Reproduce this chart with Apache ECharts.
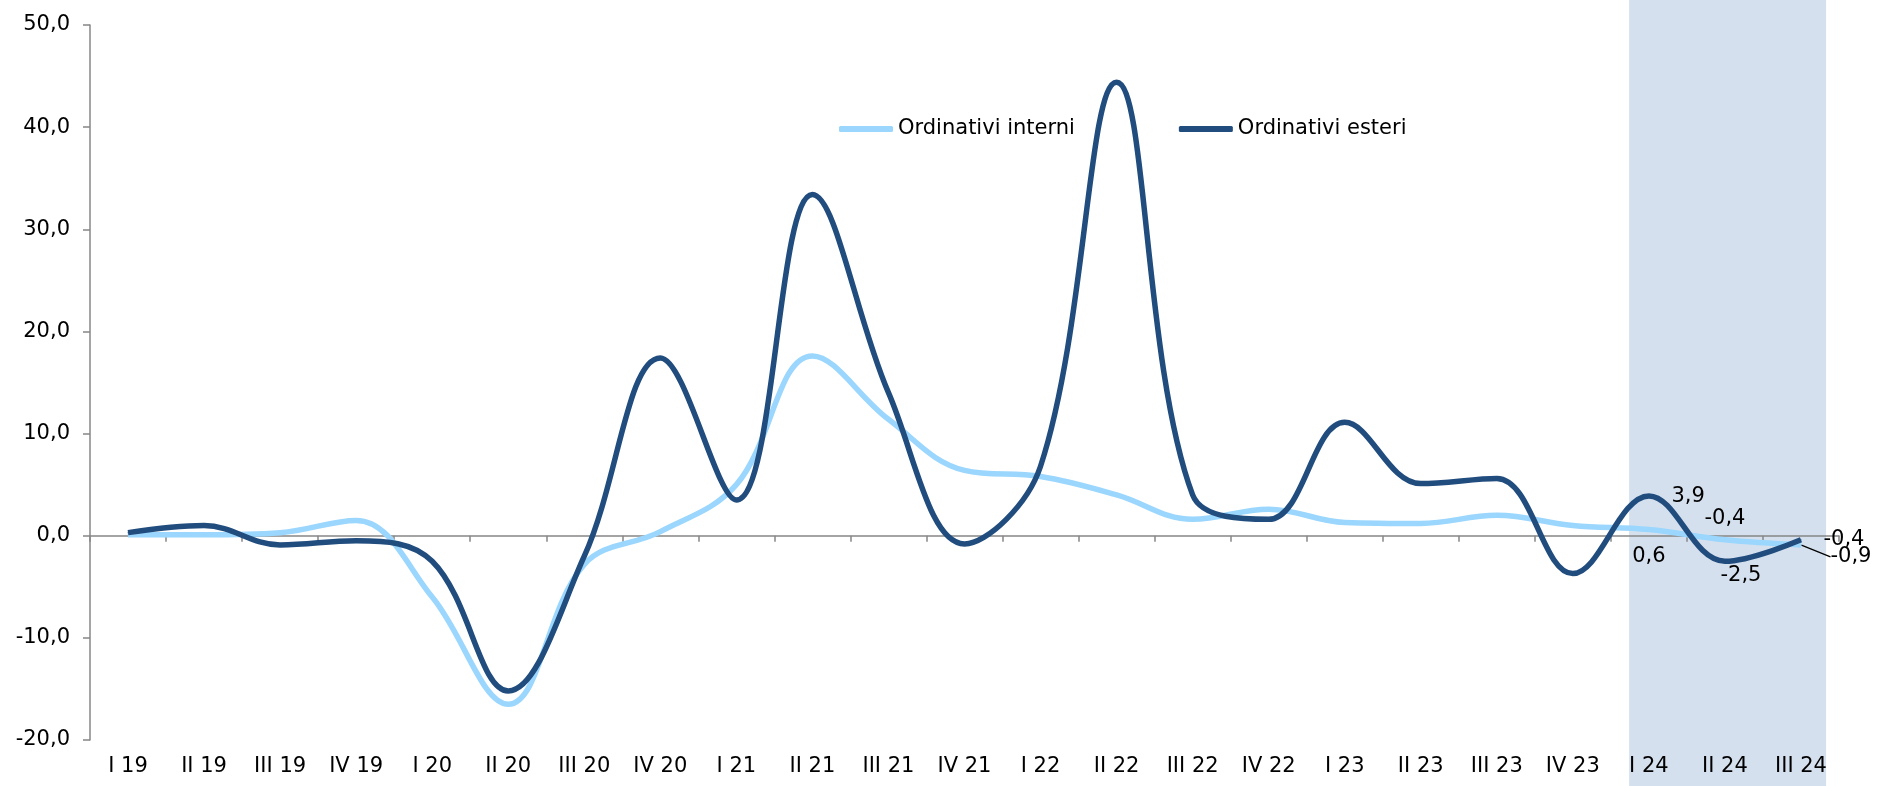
<!DOCTYPE html>
<html><head><meta charset="utf-8">
<script src="https://cdn.jsdelivr.net/npm/echarts@6/dist/echarts.min.js"></script>
<style>html,body{margin:0;padding:0;background:#fff}#c{width:1879px;height:786px}</style>
</head><body><div id="c"></div><script>
const categories = ['I 19','II 19','III 19','IV 19','I 20','II 20','III 20','IV 20','I 21','II 21','III 21','IV 21','I 22','II 22','III 22','IV 22','I 23','II 23','III 23','IV 23','I 24','II 24','III 24'];
const interni = [0.1, 0.1, 0.3, 1.5, -6.0, -16.5, -2.8, 0.4, 5.0, 17.6, 11.4, 6.4, 5.8, 4.0, 1.6, 2.6, 1.3, 1.2, 2.0, 1.0, 0.6, -0.4, -0.9];
const esteri = [0.3, 1.0, -0.9, -0.5, -2.5, -15.2, -2.0, 17.4, 3.5, 33.4, 14.0, -0.8, 6.8, 44.4, 4.0, 1.6, 11.1, 5.1, 5.6, -3.7, 3.9, -2.5, -0.4];
const seriesNames = ['Ordinativi interni', 'Ordinativi esteri'];
const yMin = -20, yMax = 50, yStep = 10;
const bandFrom = 'I 24', bandTo = 'III 24';

const FONT = 'DejaVu Sans';
const FS = 21;
const fmt = v => v.toFixed(1).replace('.', ',');

// label placement (style, kept out of the data arrays)
const interniLabels = {
  20: {position: 'bottom', distance: 16, offset: [7, 0]},
  21: {position: 'top', distance: 10, offset: [3, 0]},
  22: {position: 'right', distance: 5, leader: true}
};
const esteriLabels = {
  20: {position: 'right', distance: 22, offset: [0, 1]},
  21: {position: 'bottom', distance: 3, offset: [16, 0]},
  22: {position: 'right', distance: 22, offset: [0, 0]}
};

function buildData(values, labels) {
  return values.map((v, i) => {
    const l = labels[i];
    if (!l) return v;
    const item = {
      value: v,
      label: {show: true, position: l.position, distance: l.distance, offset: l.offset || [0, 0],
              formatter: p => fmt(p.value), color: '#000', fontFamily: FONT, fontSize: FS}
    };
    if (l.leader) item.labelLine = {show: true, lineStyle: {color: '#000', width: 1.2}};
    return item;
  });
}

const chart = echarts.init(document.getElementById('c'), null, {renderer: 'canvas'});
const bandLo = categories.indexOf(bandFrom) - 0.26;
const bandHi = categories.indexOf(bandTo) + 0.33;
const SMOOTH = 0.38;

const option = {
  animation: false,
  backgroundColor: '#fff',
  textStyle: {fontFamily: FONT},
  legend: {
    data: seriesNames,
    left: 834, top: 112,
    icon: 'roundRect', itemWidth: 54, itemHeight: 6, itemGap: 104,
    textStyle: {color: '#000', fontFamily: FONT, fontSize: FS, lineHeight: 24},
    selectedMode: false
  },
  grid: [
    {left: 90, right: 40, top: 25, bottom: 46, containLabel: false},
    {left: 90, right: 40, top: 0, bottom: 0, containLabel: false}
  ],
  xAxis: [
    {type: 'category', data: categories, gridIndex: 0, boundaryGap: true,
     axisLine: {onZero: true, lineStyle: {color: '#878787', width: 1.5}},
     axisTick: {show: true, interval: 0, length: 6, lineStyle: {color: '#878787', width: 1.5}},
     axisLabel: {show: false}, splitLine: {show: false}},
    {type: 'category', data: categories, gridIndex: 0, position: 'bottom', boundaryGap: true,
     axisLine: {show: false, onZero: false}, axisTick: {show: false},
     axisLabel: {show: true, interval: 0, margin: 16, color: '#000', fontFamily: FONT, fontSize: FS},
     splitLine: {show: false}},
    {type: 'value', gridIndex: 1, min: -0.5, max: categories.length - 0.5, show: false}
  ],
  yAxis: [
    {type: 'value', gridIndex: 0, min: yMin, max: yMax, interval: yStep,
     axisLine: {show: true, lineStyle: {color: '#878787', width: 1.5}},
     axisTick: {show: true, length: 7, lineStyle: {color: '#878787', width: 1.5}},
     axisLabel: {margin: 20, color: '#000', fontFamily: FONT, fontSize: FS, formatter: v => fmt(v)},
     splitLine: {show: false}},
    {type: 'value', gridIndex: 1, min: 0, max: 1, show: false}
  ],
  series: [
    {
      type: 'line', xAxisIndex: 2, yAxisIndex: 1, data: [], silent: true, z: -1,
      markArea: {silent: true, z: -1, itemStyle: {color: '#D5E0EE'},
                 data: [[{xAxis: bandLo}, {xAxis: bandHi}]]}
    },
    {
      name: seriesNames[0], type: 'line', xAxisIndex: 0, yAxisIndex: 0,
      data: buildData(interni, interniLabels),
      smooth: SMOOTH, symbol: 'circle', symbolSize: 1, showSymbol: true,
      color: '#9AD6FD',
      itemStyle: {color: '#9AD6FD'},
      lineStyle: {color: '#9AD6FD', width: 5.5},
      labelLayout: p => (p.dataIndex === 22 ? {dx: 24, dy: 12} : {}),
      emphasis: {disabled: true}, z: 2
    },
    {
      name: seriesNames[1], type: 'line', xAxisIndex: 0, yAxisIndex: 0,
      data: buildData(esteri, esteriLabels),
      smooth: SMOOTH, symbol: 'circle', symbolSize: 1, showSymbol: true,
      color: '#214C7E',
      itemStyle: {color: '#214C7E'},
      lineStyle: {color: '#214C7E', width: 5.5},
      emphasis: {disabled: true}, z: 3
    }
  ]
};
chart.setOption(option);
</script></body></html>
